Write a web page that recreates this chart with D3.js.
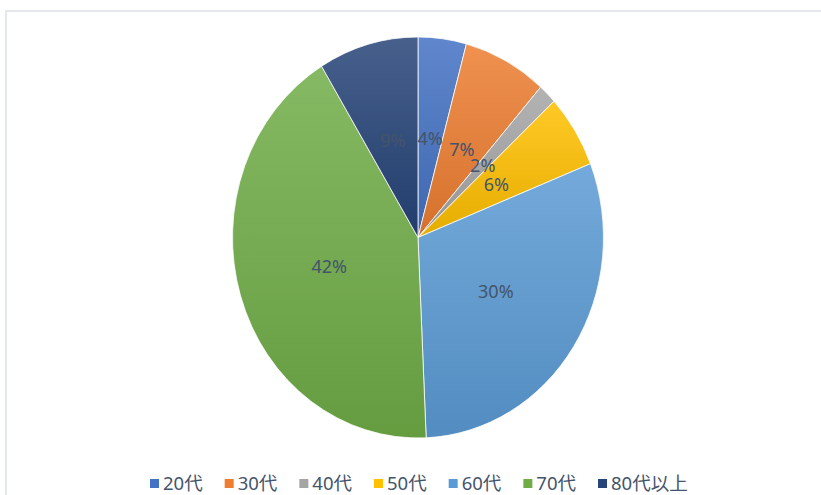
<!DOCTYPE html>
<html>
<head>
<meta charset="utf-8">
<script src="https://cdn.jsdelivr.net/npm/d3@7"></script>
<style>
  body { margin: 0; background: #fff; }
  text { font-family: "Noto Sans", "Noto Sans CJK JP", sans-serif; }
</style>
</head>
<body>
<script>
// data (share of respondents by age group)
var categories = ["20代", "30代", "40代", "50代", "60代", "70代", "80代以上"];
var values = [4.2, 7.3, 1.6, 5.9, 30.3, 42.0, 8.7];
var colours = ["#4472C4", "#ED7D31", "#A5A5A5", "#FFC000", "#5B9BD5", "#70AD47", "#264478"];

var width = 821, height = 495;
var cx = 418, cy = 237.5, radius = 200.5, sx = 185.5 / 200.5;

var svg = d3.select("body").append("svg")
	.attr("width", width)
	.attr("height", height);

// chart frame (cut off at right and bottom)
svg.append("rect")
	.attr("x", 6).attr("y", 11)
	.attr("width", 840).attr("height", 520)
	.attr("fill", "none")
	.attr("stroke", "#dce1e9")
	.attr("stroke-width", 1.5);

var total = d3.sum(values);
var data = categories.map((c, i) => ({ name: c, value: values[i], colour: colours[i] }));

var pie = d3.pie().sort(null).value(d => d.value);
var arc = d3.arc().innerRadius(0).outerRadius(radius);
var arcs = pie(data);

var defs = svg.append("defs");
arcs.forEach((d, i) => {
	var g = defs.append("linearGradient")
		.attr("id", "grad" + i)
		.attr("x1", 0).attr("y1", 0).attr("x2", 0).attr("y2", 1);
	g.append("stop").attr("offset", "0%")
		.attr("stop-color", d3.interpolateRgb(d.data.colour, "#fff")(0.15));
	g.append("stop").attr("offset", "100%")
		.attr("stop-color", d3.interpolateRgb(d.data.colour, "#000")(0.1));
});

var pieG = svg.append("g")
	.attr("transform", "translate(" + cx + "," + cy + ") scale(" + sx + ",1)");

pieG.selectAll("path")
	.data(arcs)
	.enter().append("path")
	.attr("d", arc)
	.attr("fill", (d, i) => "url(#grad" + i + ")")
	.attr("stroke", "#fff")
	.attr("stroke-width", 0.8);

// data labels at the slice centroids
svg.append("g").selectAll("text")
	.data(arcs)
	.enter().append("text")
	.attr("x", d => cx + arc.centroid(d)[0] * sx)
	.attr("y", d => cy + arc.centroid(d)[1])
	.attr("dy", "0.36em")
	.attr("text-anchor", "middle")
	.attr("fill", "#44546A")
	.style("font-size", "18px")
	.text(d => Math.round(d.data.value / total * 100) + "%");

// legend
var legend = svg.append("g").attr("transform", "translate(150,483.5)");
var lx = 0;
data.forEach(d => {
	var item = legend.append("g").attr("transform", "translate(" + lx + ",0)");
	item.append("rect")
		.attr("x", 0).attr("y", -4.5)
		.attr("width", 9).attr("height", 9)
		.attr("fill", d.colour);
	var t = item.append("text")
		.attr("x", 13)
		.attr("dy", "0.36em")
		.attr("fill", "#44546A")
		.style("font-size", "18.5px")
		.text(d.name);
	lx += 13 + t.node().getComputedTextLength() + 22;
});
</script>
</body>
</html>
